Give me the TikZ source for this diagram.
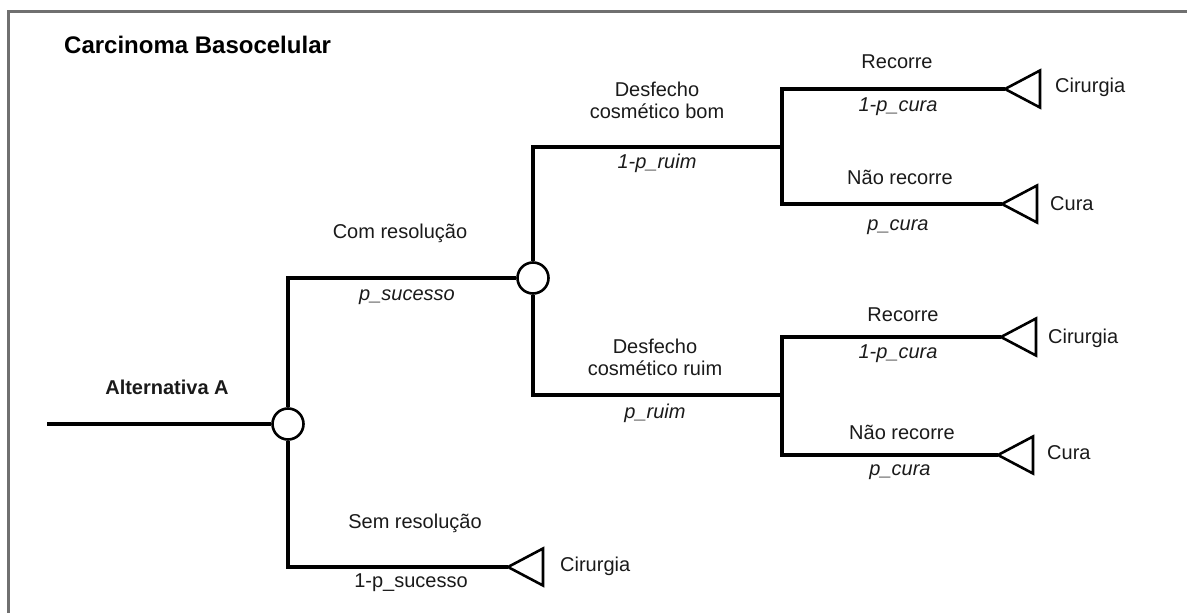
\documentclass[tikz,border=0pt]{standalone}
\usepackage{fontspec}
\setmainfont{Liberation Sans}
\usetikzlibrary{backgrounds}
\definecolor{framegray}{HTML}{707070}
\definecolor{txt}{HTML}{1A1A1A}
\begin{document}
\begin{tikzpicture}[x=1pt,y=-1pt,
  br/.style={line width=3.6pt, line join=miter},
  chance/.style={circle, draw, line width=2.6pt, fill=white, minimum size=31pt, inner sep=0pt},
  lbl/.style={font=\fontsize{20}{22}\selectfont, text=txt, inner sep=0pt, align=center},
  prob/.style={font=\fontsize{20}{22}\selectfont\itshape, text=txt, inner sep=0pt},
  boldlbl/.style={font=\fontsize{20}{22}\selectfont\bfseries, text=txt, inner sep=0pt},
  titlelbl/.style={font=\fontsize{24}{28}\selectfont\bfseries, text=black, inner sep=0pt},
  endlbl/.style={font=\fontsize{20}{22}\selectfont, text=txt, inner sep=0pt, anchor=west},
  term/.pic={\draw[line width=2.6pt, line join=miter, fill=white] (0,0) -- (35,-18.5) -- (35,18.5) -- cycle;}
]
\useasboundingbox (0,0) rectangle (1187,613);
% frame
\draw[framegray, line width=3pt] (8.5,613) -- (8.5,11) -- (1187,11);

% title
\node[titlelbl, anchor=west] (title) at (64,45) {Carcinoma Basocelular};

% chance nodes
\node[chance] (c1) at (288,424) {};
\node[chance] (c2) at (533,278) {};

% coordinates
\coordinate (r) at (47,424);
\coordinate (j1) at (782,147);
\coordinate (j2) at (782,395);
\coordinate (t0) at (508,567);
\coordinate (t1) at (1005,89);
\coordinate (t2) at (1002,204);
\coordinate (t3) at (1001,337);
\coordinate (t4) at (998,455);

% terminal triangles
\pic at (t0) {term};
\pic at (t1) {term};
\pic at (t2) {term};
\pic at (t3) {term};
\pic at (t4) {term};

% connectors
\begin{scope}[on background layer]
\draw[br] (r) -- (c1);
\draw[br] (c1) |- (c2);
\draw[br] (c1) |- (t0);
\draw[br] (c2) |- (j1);
\draw[br] (c2) |- (j2);
\draw[br] (t1) -| (j1) |- (t2);
\draw[br] (t3) -| (j2) |- (t4);
\end{scope}

% labels
\node[boldlbl] (alt) at (167,387) {Alternativa A};
\node[lbl] (comres) at (400,233) {Com resolução};
\node[prob] (psuc) at (407,297) {p\_sucesso};
\node[lbl] (semres) at (415,523) {Sem resolução};
\node[lbl] (npsuc) at (411,583) {1-p\_sucesso};
\node[endlbl] (cir0) at (560,566) {Cirurgia};

\node[lbl] (dbom) at (657,100) {Desfecho\\cosmético bom};
\node[prob] (npruim) at (657,163) {1-p\_ruim};
\node[lbl] (rec1) at (897,62) {Recorre};
\node[prob] (npc1) at (898,107) {1-p\_cura};
\node[lbl] (nrec1) at (900,177) {Não recorre};
\node[prob] (pc1) at (898,227) {p\_cura};
\node[endlbl] (cir1) at (1055,87) {Cirurgia};
\node[endlbl] (cura1) at (1050,204) {Cura};

\node[lbl] (druim) at (655,357) {Desfecho\\cosmético ruim};
\node[prob] (pruim) at (655,413) {p\_ruim};
\node[lbl] (rec2) at (903,315) {Recorre};
\node[prob] (npc2) at (898,354) {1-p\_cura};
\node[lbl] (nrec2) at (902,432) {Não recorre};
\node[prob] (pc2) at (900,472) {p\_cura};
\node[endlbl] (cir2) at (1048,338) {Cirurgia};
\node[endlbl] (cura2) at (1047,453) {Cura};
\end{tikzpicture}
\end{document}
